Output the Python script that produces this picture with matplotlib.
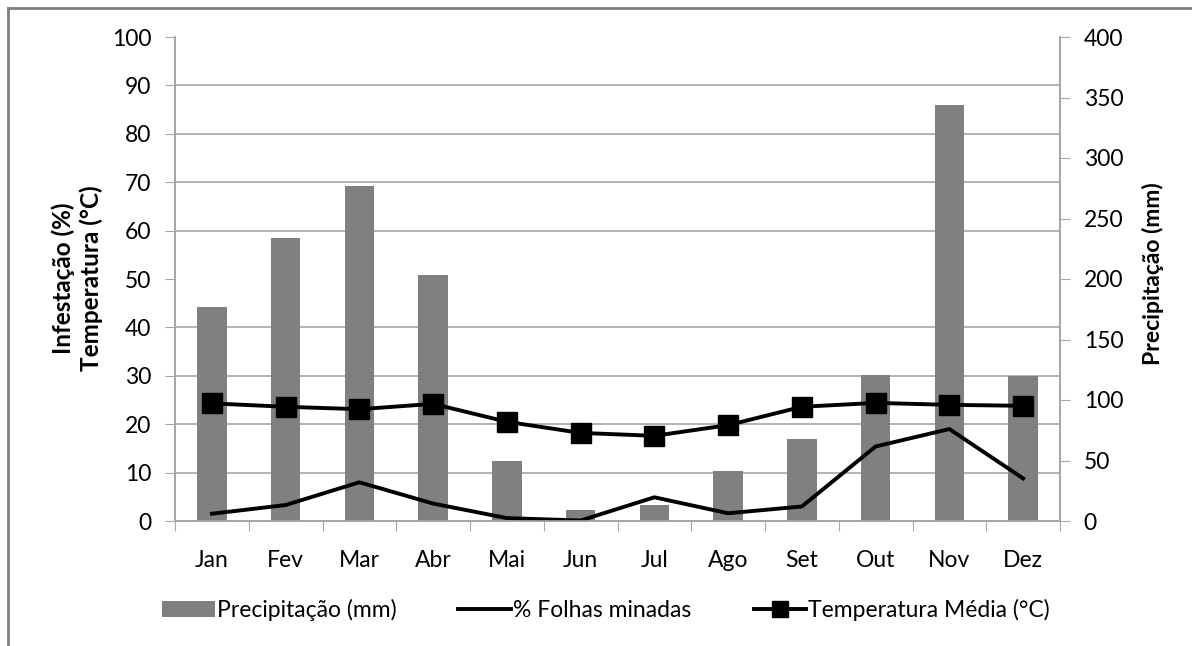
import numpy as np
import matplotlib.pyplot as plt
from matplotlib.lines import Line2D

plt.rcParams['font.family'] = ['Lato', 'DejaVu Sans']

# ---- data ----
months = ['Jan', 'Fev', 'Mar', 'Abr', 'Mai', 'Jun',
          'Jul', 'Ago', 'Set', 'Out', 'Nov', 'Dez']
precip_mm = [177, 234, 277, 203, 50, 9, 13, 41, 67.5, 121, 343.5, 119.5]
folhas_minadas = [1.5, 3.3, 8.0, 3.6, 0.6, 0.1, 4.9, 1.6, 3.0, 15.4, 19.0, 8.8]
temp_media = [24.3, 23.6, 23.1, 24.2, 20.5, 18.2, 17.6, 19.8, 23.6, 24.4, 24.0, 23.8]

grid_col = '#a6a6a6'
bar_col = '#808080'
fs = 16.5

fig = plt.figure(figsize=(11.92, 6.46), dpi=100)
ax = fig.add_axes([175/1192, 1 - 521/646, 885/1192, 484/646])
ax2 = ax.twinx()

x = np.arange(len(months))

# bars on the right axis (mm), drawn below the lines
ax2.bar(x, precip_mm, width=0.4, color=bar_col, zorder=3,
        label='Precipitação (mm)')
ax2.set_ylim(0, 400)
ax2.set_yticks(np.arange(0, 401, 50))
# gridlines at the left-axis positions (every 10 % = 40 mm)
ax2.set_yticks(np.arange(0, 401, 40), minor=True)
ax2.yaxis.grid(True, which='minor', color=grid_col, linewidth=1.2, zorder=0)
ax2.tick_params(axis='y', which='minor', length=0)
ax2.tick_params(axis='y', which='major', length=7, color=grid_col,
                labelsize=fs, pad=10)
ax2.set_axisbelow(True)

# lines on the left axis, drawn above
ax.set_zorder(ax2.get_zorder() + 1)
ax.patch.set_visible(False)
ax.plot(x, folhas_minadas, '-', color='black', linewidth=2.8,
        label='% Folhas minadas')
ax.plot(x, temp_media, '-s', color='black', linewidth=2.8, markersize=14,
        label='Temperatura Média (°C)')
ax.set_ylim(0, 100)
ax.set_yticks(np.arange(0, 101, 10))
ax.tick_params(axis='y', length=7, color=grid_col, labelsize=fs, pad=10)

ax.set_xlim(-0.5, 11.5)
ax.set_xticks(np.arange(-0.5, 12, 1))
ax.set_xticklabels([])
ax.set_xticks(x, minor=True)
ax.set_xticklabels(months, minor=True)
ax.tick_params(axis='x', which='major', length=7, color=grid_col)
ax.tick_params(axis='x', which='minor', length=0, labelsize=fs, pad=21)

for a in (ax, ax2):
    a.spines['top'].set_visible(False)
    for side in ('left', 'right', 'bottom'):
        a.spines[side].set_color(grid_col)
        a.spines[side].set_linewidth(1.2)

fig.text(77/1192, 1 - 278/646, 'Infestação (%)\nTemperatura (°C)',
         rotation=90, ha='center', va='center', fontsize=17.5,
         fontweight='bold', linespacing=1.2)
fig.text(1153/1192, 1 - 274/646, 'Precipitação (mm)', rotation=90,
         ha='center', va='center', fontsize=fs, fontweight='bold')

h1, l1 = ax2.get_legend_handles_labels()
h2, l2 = ax.get_legend_handles_labels()
fig.legend(h1 + h2, l1 + l2, loc='center', bbox_to_anchor=(606/1192, 1 - 610/646),
           ncol=3, frameon=False, fontsize=fs, handlelength=2.3,
           handletextpad=0.1, columnspacing=2.7, markerscale=0.8)

# outer chart border (top and left visible)
fig.add_artist(Line2D([8/1192, 1], [1 - 8/646, 1 - 8/646], color='#7f7f7f',
                      linewidth=2, transform=fig.transFigure))
fig.add_artist(Line2D([8/1192, 8/1192], [0, 1 - 8/646], color='#7f7f7f',
                      linewidth=2, transform=fig.transFigure))

fig.savefig('out.png', dpi=100)
